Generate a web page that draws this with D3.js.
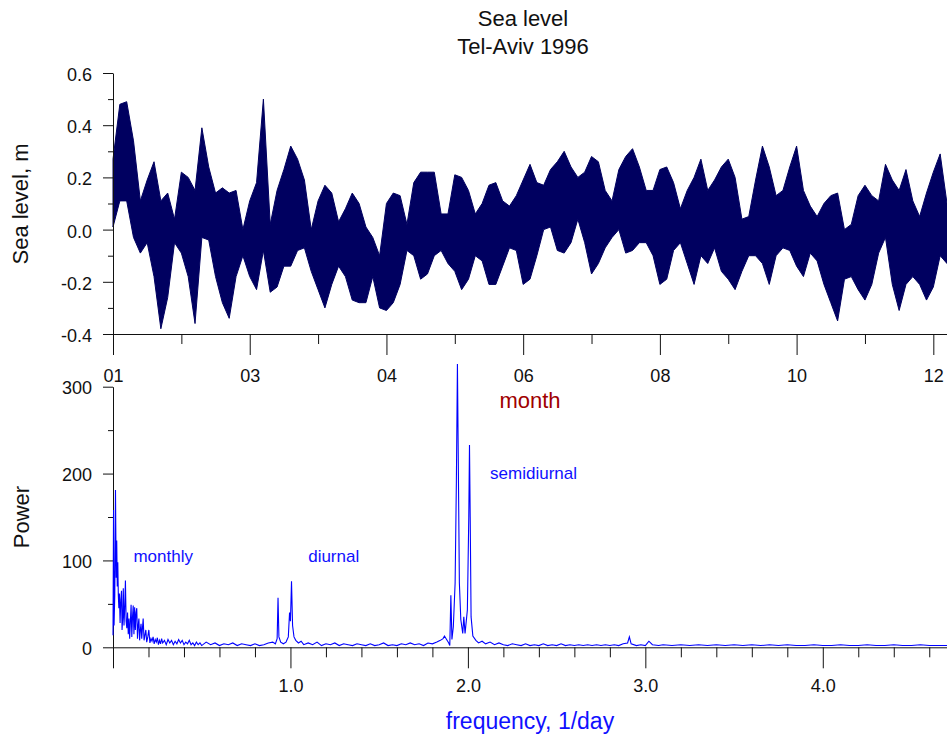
<!DOCTYPE html>
<html>
<head>
<meta charset="utf-8">
<script src="https://cdn.jsdelivr.net/npm/d3@7"></script>
<style>
  body { margin: 0; background: #fff; }
  svg { display: block; font-family: "Liberation Sans", Arial, sans-serif; }
  .axis path, .axis line { stroke: #111; stroke-width: 1; }
  .axis text { fill: #111; font-size: 18px; font-family: "Liberation Sans", Arial, sans-serif; }
</style>
</head>
<body>
<svg id="chart" width="947" height="738"></svg>
<script>
// sea level envelope, read every 3 days (day of year 0..366): upper and lower band edge, m
const seaHigh = [
  0.27, 0.48, 0.49, 0.34, 0.11, 0.19, 0.26, 0.11, 0.14, 0.04,
  0.22, 0.20, 0.15, 0.39, 0.24, 0.14, 0.16, 0.14, 0.15, 0.00,
  0.11, 0.18, 0.50, 0.02, 0.15, 0.23, 0.32, 0.27, 0.19, 0.00,
  0.11, 0.17, 0.14, 0.03, 0.08, 0.14, 0.10, 0.01, -0.03, -0.10,
  0.10, 0.14, 0.13, 0.02, 0.18, 0.22, 0.22, 0.22, 0.06, 0.06,
  0.21, 0.20, 0.15, 0.06, 0.10, 0.17, 0.18, 0.11, 0.09, 0.13,
  0.19, 0.25, 0.18, 0.17, 0.23, 0.26, 0.30, 0.24, 0.20, 0.22,
  0.28, 0.26, 0.15, 0.11, 0.23, 0.28, 0.31, 0.24, 0.15, 0.15,
  0.23, 0.24, 0.18, 0.08, 0.15, 0.20, 0.27, 0.15, 0.19, 0.24,
  0.27, 0.20, 0.04, 0.05, 0.19, 0.32, 0.24, 0.13, 0.15, 0.24,
  0.32, 0.15, 0.09, 0.05, 0.10, 0.13, 0.14, 0.00, 0.02, 0.13,
  0.17, 0.13, 0.11, 0.25, 0.19, 0.15, 0.23, 0.11, 0.05, 0.14,
  0.22, 0.29, 0.10
];
const seaLow = [
  0.01, 0.11, 0.11, -0.03, -0.09, -0.05, -0.18, -0.38, -0.26, -0.05,
  -0.09, -0.18, -0.36, -0.03, -0.04, -0.18, -0.28, -0.34, -0.18, -0.10,
  -0.18, -0.23, -0.08, -0.24, -0.22, -0.14, -0.14, -0.08, -0.07, -0.16,
  -0.23, -0.30, -0.21, -0.14, -0.18, -0.27, -0.28, -0.28, -0.18, -0.30,
  -0.31, -0.28, -0.21, -0.08, -0.10, -0.19, -0.17, -0.10, -0.08, -0.13,
  -0.16, -0.23, -0.19, -0.10, -0.12, -0.21, -0.21, -0.14, -0.07, -0.08,
  -0.21, -0.19, -0.10, 0.00, 0.01, -0.08, -0.09, -0.05, 0.04, -0.05,
  -0.17, -0.13, -0.07, -0.03, 0.00, -0.09, -0.08, -0.05, -0.05, -0.10,
  -0.21, -0.19, -0.08, -0.05, -0.13, -0.21, -0.10, -0.13, -0.07, -0.16,
  -0.19, -0.23, -0.16, -0.10, -0.10, -0.13, -0.21, -0.10, -0.07, -0.08,
  -0.14, -0.18, -0.09, -0.12, -0.21, -0.28, -0.35, -0.19, -0.18, -0.23,
  -0.27, -0.21, -0.09, -0.03, -0.21, -0.31, -0.21, -0.18, -0.21, -0.27,
  -0.22, -0.10, -0.13
];
const seaDays = d3.range(0, 367, 3);

const monthTicks = [0, 60, 120, 180, 240, 300, 360];
const monthLabels = ['01', '03', '04', '06', '08', '10', '12'];
const monthMinor = [30, 90, 150, 210, 270, 330];
const levelTicks = [-0.4, -0.2, 0.0, 0.2, 0.4, 0.6];
const levelMinor = [-0.3, -0.1, 0.1, 0.3, 0.5];

// power spectrum
const specFreq = [
  0.000, 0.003, 0.006, 0.010, 0.014, 0.018, 0.021, 0.024, 0.027, 0.030,
  0.033, 0.036, 0.040, 0.044, 0.048, 0.051, 0.055, 0.058, 0.062, 0.066,
  0.070, 0.074, 0.078, 0.082, 0.086, 0.090, 0.094, 0.098, 0.102, 0.106,
  0.110, 0.114, 0.118, 0.122, 0.126, 0.130, 0.134, 0.138, 0.142, 0.146,
  0.150, 0.154, 0.158, 0.162, 0.166, 0.170, 0.175, 0.180, 0.185, 0.190,
  0.196, 0.202, 0.208, 0.214, 0.220, 0.226, 0.232, 0.238, 0.244, 0.250,
  0.256, 0.262, 0.268, 0.274, 0.280, 0.290, 0.300, 0.310, 0.320, 0.330,
  0.340, 0.350, 0.360, 0.370, 0.380, 0.390, 0.400, 0.410, 0.420, 0.430,
  0.440, 0.450, 0.460, 0.470, 0.480, 0.490, 0.500, 0.525, 0.550, 0.575,
  0.600, 0.625, 0.650, 0.675, 0.700, 0.725, 0.750, 0.775, 0.800, 0.825,
  0.850, 0.875, 0.900, 0.915, 0.925, 0.930, 0.935, 0.945, 0.960, 0.975,
  0.988, 0.995, 1.000, 1.006, 1.012, 1.020, 1.030, 1.045, 1.060, 1.075,
  1.100, 1.125, 1.150, 1.175, 1.200, 1.225, 1.250, 1.275, 1.300, 1.325,
  1.350, 1.375, 1.400, 1.425, 1.450, 1.475, 1.500, 1.525, 1.550, 1.575,
  1.600, 1.625, 1.650, 1.675, 1.700, 1.725, 1.750, 1.775, 1.800, 1.825,
  1.845, 1.860, 1.868, 1.880, 1.892, 1.898, 1.904, 1.910, 1.918, 1.928,
  1.935, 1.941, 1.947, 1.952, 1.960, 1.971, 1.977, 1.984, 1.997, 2.005,
  2.009, 2.013, 2.018, 2.028, 2.045, 2.060, 2.080, 2.100, 2.125, 2.150,
  2.175, 2.200, 2.225, 2.250, 2.275, 2.300, 2.325, 2.350, 2.375, 2.400,
  2.425, 2.450, 2.475, 2.500, 2.525, 2.550, 2.575, 2.600, 2.625, 2.650,
  2.675, 2.700, 2.725, 2.750, 2.775, 2.800, 2.825, 2.850, 2.875, 2.900,
  2.910, 2.920, 2.950, 2.975, 3.000, 3.020, 3.040, 3.075, 3.100, 3.150,
  3.200, 3.250, 3.300, 3.350, 3.400, 3.450, 3.500, 3.550, 3.600, 3.650,
  3.700, 3.750, 3.800, 3.850, 3.900, 3.950, 4.000, 4.050, 4.100, 4.150,
  4.200, 4.250, 4.300, 4.350, 4.400, 4.450, 4.500, 4.550, 4.600, 4.650,
  4.700
];
const specPower = [
  14, 158, 25, 60, 181, 80, 123, 70, 98, 60,
  45, 62, 28, 55, 65, 20, 35, 68, 25, 45,
  77, 30, 22, 40, 15, 33, 10, 30, 49, 12,
  35, 48, 15, 46, 20, 40, 45, 10, 25, 33,
  8, 20, 27, 10, 22, 33, 8, 14, 20, 6,
  12, 20, 5, 10, 7, 12, 4, 9, 6, 11,
  3, 8, 4, 10, 5, 8, 3, 9, 5, 8,
  3, 7, 4, 9, 5, 8, 3, 6, 4, 8,
  3, 5, 2, 6, 3, 5, 2, 6, 3, 5,
  2, 4, 3, 5, 2, 4, 3, 2, 4, 2,
  3, 5, 6, 4, 10, 57, 12, 6, 4, 6,
  12, 40, 30, 76, 25, 12, 8, 5, 7, 3,
  5, 3, 6, 2, 4, 3, 5, 2, 4, 3,
  2, 4, 3, 2, 4, 2, 3, 5, 2, 3,
  2, 4, 3, 5, 3, 4, 2, 5, 4, 6,
  8, 10, 13, 9, 5, 2, 60, 9, 24, 74,
  189, 326, 189, 74, 32, 16, 35, 16, 43, 150,
  233, 150, 35, 13, 8, 5, 7, 4, 6, 3,
  5, 3, 2, 4, 3, 2, 4, 2, 3, 2,
  4, 2, 3, 2, 4, 2, 3, 2, 3, 2,
  3, 2, 3, 2, 3, 2, 3, 2, 4, 5,
  12, 4, 2, 3, 2, 7, 3, 2, 3, 2,
  3, 2, 3, 2, 3, 2, 3, 2, 3, 2,
  3, 2, 3, 2, 2, 3, 2, 2, 3, 2,
  2, 3, 2, 2, 3, 2, 2, 3, 2, 2,
  2
];
const freqTicks = [0, 1, 2, 3, 4];
const freqLabels = ['', '1.0', '2.0', '3.0', '4.0'];
const freqMinor = [0.2, 0.4, 0.6, 0.8, 1.2, 1.4, 1.6, 1.8, 2.2, 2.4, 2.6, 2.8,
                   3.2, 3.4, 3.6, 3.8, 4.2, 4.4, 4.6];
const powerTicks = [0, 100, 200, 300];
const powerMinor = [50, 150, 250];

const notes = [
  { text: 'monthly', f: 0.115, p: 98 },
  { text: 'diurnal', f: 1.10, p: 98 },
  { text: 'semidiurnal', f: 2.125, p: 194 }
];

const svg = d3.select('#chart');

const left = 113;
const right = 947;

// ---------- top panel ----------
const xDay = d3.scaleLinear().domain([0, 366]).range([left, right]);
const yLevel = d3.scaleLinear().domain([-0.4, 0.6]).range([334, 73]);

const seaData = seaDays.map((d, i) => ({ day: d, hi: seaHigh[i], lo: seaLow[i] }));

svg.append('path')
  .datum(seaData)
  .attr('fill', '#000060')
  .attr('stroke', '#000060')
  .attr('stroke-width', 1)
  .attr('d', d3.area()
    .x(d => xDay(d.day))
    .y0(d => yLevel(d.lo))
    .y1(d => yLevel(d.hi)));

const yLevelAxis = svg.append('g').attr('class', 'axis')
  .attr('transform', `translate(${left},0)`)
  .call(d3.axisLeft(yLevel).tickValues(levelTicks).tickFormat(d => d.toFixed(1))
    .tickSize(10).tickSizeOuter(0).tickPadding(11));
yLevelAxis.selectAll('text').attr('dy', '0.42em');
svg.append('g').attr('class', 'axis')
  .attr('transform', `translate(${left},0)`)
  .call(d3.axisLeft(yLevel).tickValues(levelMinor).tickFormat('').tickSize(5).tickSizeOuter(0))
  .select('.domain').remove();

svg.append('g').attr('class', 'axis')
  .attr('transform', 'translate(0,334)')
  .call(d3.axisBottom(xDay).tickValues(monthTicks).tickFormat((d, i) => monthLabels[i])
    .tickSize(21).tickSizeOuter(0).tickPadding(14));
svg.append('g').attr('class', 'axis')
  .attr('transform', 'translate(0,334)')
  .call(d3.axisBottom(xDay).tickValues(monthMinor).tickFormat('').tickSize(10).tickSizeOuter(0))
  .select('.domain').remove();

// ---------- bottom panel ----------
const xFreq = d3.scaleLinear().domain([0, 4.7]).range([left, right]);
const yPower = d3.scaleLinear().domain([0, 300]).range([647.3, 386.7]);

const yPowerAxis = svg.append('g').attr('class', 'axis')
  .attr('transform', `translate(${left},0)`)
  .call(d3.axisLeft(yPower).tickValues(powerTicks).tickFormat(d => String(d))
    .tickSize(10).tickSizeOuter(0).tickPadding(11));
yPowerAxis.selectAll('text').attr('dy', '0.38em');
svg.append('g').attr('class', 'axis')
  .attr('transform', `translate(${left},0)`)
  .call(d3.axisLeft(yPower).tickValues(powerMinor).tickFormat('').tickSize(5).tickSizeOuter(0))
  .select('.domain').remove();

svg.append('g').attr('class', 'axis')
  .attr('transform', 'translate(0,647.3)')
  .call(d3.axisBottom(xFreq).tickValues(freqTicks).tickFormat((d, i) => freqLabels[i])
    .tickSize(21).tickSizeOuter(0).tickPadding(11));
svg.append('g').attr('class', 'axis')
  .attr('transform', 'translate(0,647.3)')
  .call(d3.axisBottom(xFreq).tickValues(freqMinor).tickFormat('').tickSize(10).tickSizeOuter(0))
  .select('.domain').remove();

const specData = specFreq.map((f, i) => ({ f: f, p: specPower[i] }));
svg.append('path')
  .datum(specData)
  .attr('fill', 'none')
  .attr('stroke', '#0000ff')
  .attr('stroke-width', 1.1)
  .attr('d', d3.line().x(d => xFreq(d.f)).y(d => yPower(d.p)));

svg.selectAll('text.note').data(notes)
  .enter().append('text')
    .attr('class', 'note')
    .attr('x', d => xFreq(d.f))
    .attr('y', d => yPower(d.p))
    .attr('fill', '#1010ff')
    .attr('font-size', 17)
    .text(d => d.text);

// ---------- titles ----------
svg.append('text')
  .attr('x', 523).attr('y', 26)
  .attr('text-anchor', 'middle').attr('font-size', 22).attr('fill', '#111')
  .text('Sea level');
svg.append('text')
  .attr('x', 523).attr('y', 54)
  .attr('text-anchor', 'middle').attr('font-size', 22).attr('fill', '#111')
  .text('Tel-Aviv 1996');

svg.append('text')
  .attr('transform', 'translate(28,204) rotate(-90)')
  .attr('text-anchor', 'middle').attr('font-size', 22).attr('fill', '#111')
  .text('Sea level, m');
svg.append('text')
  .attr('transform', 'translate(29,517) rotate(-90)')
  .attr('text-anchor', 'middle').attr('font-size', 22).attr('fill', '#111')
  .text('Power');

svg.append('text')
  .attr('x', (left + right) / 2).attr('y', 408)
  .attr('text-anchor', 'middle').attr('font-size', 22).attr('fill', '#a00000')
  .text('month');
svg.append('text')
  .attr('x', (left + right) / 2).attr('y', 729)
  .attr('text-anchor', 'middle').attr('font-size', 23).attr('fill', '#1010ff')
  .text('frequency, 1/day');
</script>
</body>
</html>
